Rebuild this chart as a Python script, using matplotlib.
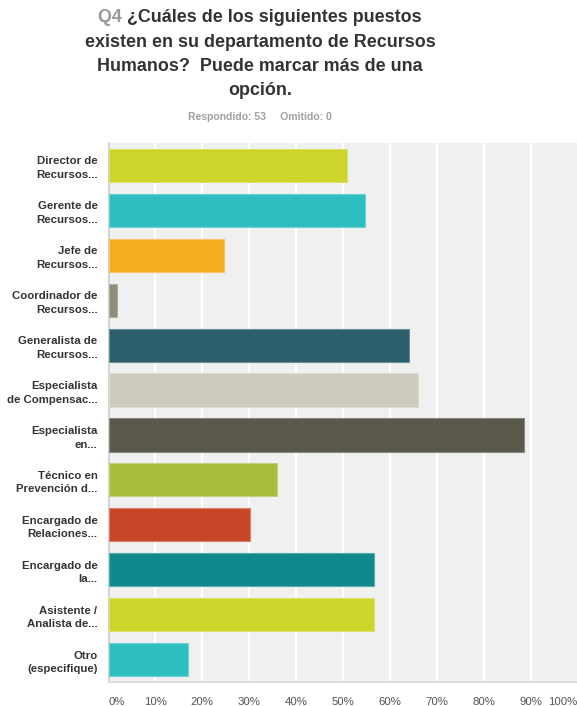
import matplotlib
matplotlib.use("Agg")
import matplotlib.pyplot as plt
from matplotlib.colors import to_rgb

categories = [
    "Director de\nRecursos...",
    "Gerente de\nRecursos...",
    "Jefe de\nRecursos...",
    "Coordinador de\nRecursos...",
    "Generalista de\nRecursos...",
    "Especialista\nde Compensac...",
    "Especialista\nen...",
    "Técnico en\nPrevención d...",
    "Encargado de\nRelaciones...",
    "Encargado de\nla...",
    "Asistente /\nAnalista de...",
    "Otro\n(especifique)",
]
values = [50.94, 54.72, 24.53, 1.89, 64.15, 66.04, 88.68, 35.85, 30.19, 56.60, 56.60, 16.98]
colors = ["#CDD42A", "#2EBEBF", "#F5AE1F", "#8E8D7B", "#2A5F6B", "#CECCBE",
          "#59584A", "#A9BE3E", "#C84628", "#10898C", "#CDD42A", "#2EBEBF"]
xticks = [0, 10, 20, 30, 40, 50, 60, 70, 80, 90, 100]
xticklabels = ["0%", "10%", "20%", "30%", "40%", "50%", "60%", "70%", "80%", "90%", "100%"]

plt.rcParams['font.family'] = ['Liberation Sans', 'DejaVu Sans']

W, H = 577, 706
fig = plt.figure(figsize=(W / 100, H / 100), dpi=100)
ax = fig.add_axes([108.5 / W, 1 - 682 / H, (577.5 - 108.5) / W, (682 - 143) / H])
ax.set_facecolor("#EFF0F0")

ypos = list(range(len(categories)))
edge = []
for c in colors:
    r, g, b = to_rgb(c)
    edge.append((r + (1 - r) * 0.3, g + (1 - g) * 0.3, b + (1 - b) * 0.3))
ax.barh(ypos, values, height=0.74, color=colors, edgecolor=edge, linewidth=0.8, zorder=3)

ax.set_xlim(0, 100)
ax.set_ylim(len(categories) - 0.5, -0.5)
ax.set_xticks(xticks)
ax.set_xticklabels(xticklabels)
ax.xaxis.grid(True, color="white", linewidth=1.6, zorder=1)
ax.set_axisbelow(True)
ax.tick_params(axis='x', length=0, pad=11, labelsize=8.2, labelcolor="#555555")
ax.tick_params(axis='y', length=0, pad=8)
labs = ax.get_xticklabels()
labs[0].set_ha('left')
labs[-1].set_ha('right')
ax.set_yticks(ypos)
ax.set_yticklabels(categories, fontsize=8.2, fontweight='bold', color="#333333", linespacing=1.45)
for s in ['top', 'right']:
    ax.spines[s].set_visible(False)
ax.spines['left'].set_color("#CCCCCC")
ax.spines['left'].set_linewidth(1.2)
ax.spines['bottom'].set_color("#DDDDDD")
ax.spines['bottom'].set_linewidth(1.5)

# Title
cx = 260 / W
fs = 12.9
tcol = "#333333"
lines = ["existen en su departamento de Recursos", "Humanos?  Puede marcar más de una", "opción."]
y0 = 1 - 18 / H
step = 24.3 / H
renderer = fig.canvas.get_renderer()
ta = fig.text(0, 0, "Q4 ", fontsize=fs, fontweight='bold', color="#999999", va='center')
tb = fig.text(0, 0, "¿Cuáles de los siguientes puestos", fontsize=fs, fontweight='bold', color=tcol, va='center')
wa = ta.get_window_extent(renderer).width
wb = tb.get_window_extent(renderer).width
tot = wa + wb
start = cx * W - tot / 2
ta.set_position((start / W, y0))
tb.set_position(((start + wa) / W, y0))
for i, ln in enumerate(lines):
    fig.text(cx, y0 - (i + 1) * step, ln, fontsize=fs, fontweight='bold', color=tcol,
             ha='center', va='center')

fig.text(cx, 1 - 117 / H, "Respondido: 53     Omitido: 0", fontsize=7.5, fontweight='bold',
         color="#A0A0A0", ha='center', va='center')

fig.savefig("out.png", dpi=100)
